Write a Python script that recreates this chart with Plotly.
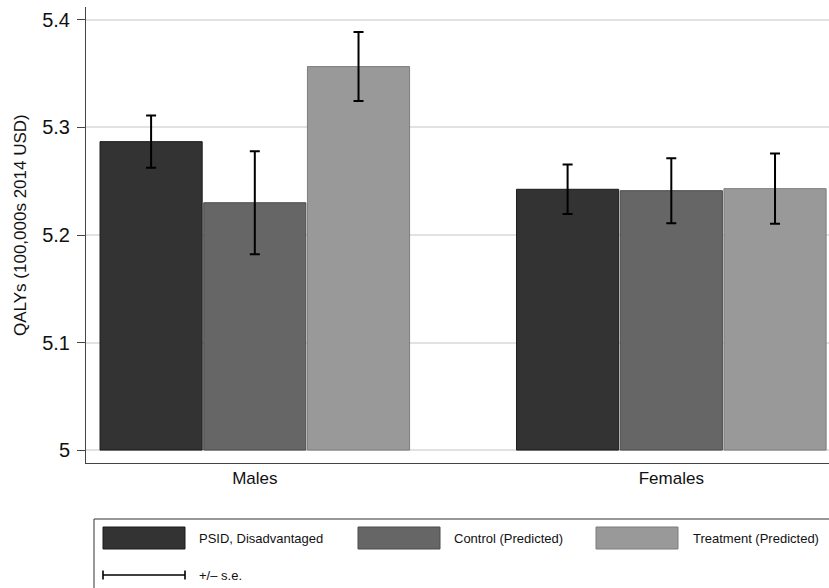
import plotly.graph_objects as go

# ---- data ----
groups = ["Males", "Females"]
series_names = ["PSID, Disadvantaged", "Control (Predicted)", "Treatment (Predicted)"]
psid_vals = [5.2868, 5.2425]
control_vals = [5.2300, 5.2412]
treatment_vals = [5.3566, 5.2431]
psid_se = [0.0242, 0.0230]
control_se = [0.0478, 0.0302]
treatment_se = [0.0321, 0.0326]
y_tick_vals = [5.0, 5.1, 5.2, 5.3, 5.4]
y_tick_text = ["5", "5.1", "5.2", "5.3", "5.4"]
y_title = "QALYs (100,000s 2014 USD)"
err_label = "+/\u2013 s.e."

fills = ["#333333", "#666666", "#999999"]
outlines = ["#1a1a1a", "#4a4a4a", "#7d7d7d"]
BASE = 5.0

W, H = 829, 588
L, R, T, B = 86, 0, 7, 125
PW = W - L - R
PH = H - T - B


def px(X):
    return (X - L) / PW


def py(Y):
    return (H - B - Y) / PH


fig = go.Figure()
for name, vals, se, fc, lc in zip(series_names,
                                  [psid_vals, control_vals, treatment_vals],
                                  [psid_se, control_se, treatment_se],
                                  fills, outlines):
    fig.add_trace(go.Bar(
        x=groups,
        y=[v - BASE for v in vals],
        base=BASE,
        name=name,
        marker=dict(color=fc, line=dict(color=lc, width=1)),
        error_y=dict(type="data", array=se, visible=True,
                     color="black", thickness=2, width=5),
        showlegend=False,
    ))

fig.update_layout(
    width=W, height=H,
    margin=dict(l=L, r=R, t=T, b=B, pad=0),
    paper_bgcolor="white", plot_bgcolor="white",
    barmode="group", bargap=0.253, bargroupgap=0.015,
    font=dict(family="Liberation Sans, Arial, sans-serif", color="#111111"),
    showlegend=False,
)
fig.update_xaxes(
    type="category", range=[-0.4053, 1.3786],
    showline=True, linecolor="#444444", linewidth=1,
    ticks="", showgrid=False, tickfont=dict(size=17),
)
fig.update_yaxes(
    range=[4.988, 5.412],
    tickvals=y_tick_vals, ticktext=y_tick_text,
    ticks="outside", ticklen=8, tickcolor="#444444", tickwidth=1,
    showline=True, linecolor="#444444", linewidth=1,
    showgrid=True, gridcolor="#e2e2e2", gridwidth=1.5,
    zeroline=False, tickfont=dict(size=20), ticklabelstandoff=3,
)

# y-axis title
fig.add_annotation(text=y_title, xref="paper", yref="paper",
                   x=px(20), y=py(225), xanchor="center", yanchor="middle",
                   textangle=-90, showarrow=False, font=dict(size=17, color="#111111"))

# ---- legend drawn manually ----
shapes = []
shapes.append(dict(type="rect", xref="paper", yref="paper",
                   x0=px(94), x1=px(845), y0=py(519), y1=py(610),
                   line=dict(color="#333333", width=1), fillcolor="rgba(0,0,0,0)"))
sw_x = [103, 358, 596]
tx_x = [197, 452, 691]
for xs, tx, name, fc, lc in zip(sw_x, tx_x, series_names, fills, outlines):
    shapes.append(dict(type="rect", xref="paper", yref="paper",
                       x0=px(xs), x1=px(xs + 82), y0=py(549), y1=py(527),
                       line=dict(color=lc, width=1), fillcolor=fc))
    fig.add_annotation(text=name, xref="paper", yref="paper",
                       x=px(tx), y=py(538.5), xanchor="left", yanchor="middle",
                       showarrow=False, font=dict(size=13, color="#111111"))
ey = 575
shapes.append(dict(type="line", xref="paper", yref="paper",
                   x0=px(103), x1=px(185), y0=py(ey), y1=py(ey),
                   line=dict(color="black", width=1.6)))
for xc in (103, 185):
    shapes.append(dict(type="line", xref="paper", yref="paper",
                       x0=px(xc), x1=px(xc), y0=py(ey - 4.5), y1=py(ey + 4.5),
                       line=dict(color="black", width=1.6)))
fig.add_annotation(text=err_label, xref="paper", yref="paper",
                   x=px(197), y=py(ey), xanchor="left", yanchor="middle",
                   showarrow=False, font=dict(size=13, color="#111111"))
fig.update_layout(shapes=shapes)

fig.write_html("out.html",
               config={"displayModeBar": False},
               post_script="document.body.style.margin='0';document.body.style.overflow='hidden';")
